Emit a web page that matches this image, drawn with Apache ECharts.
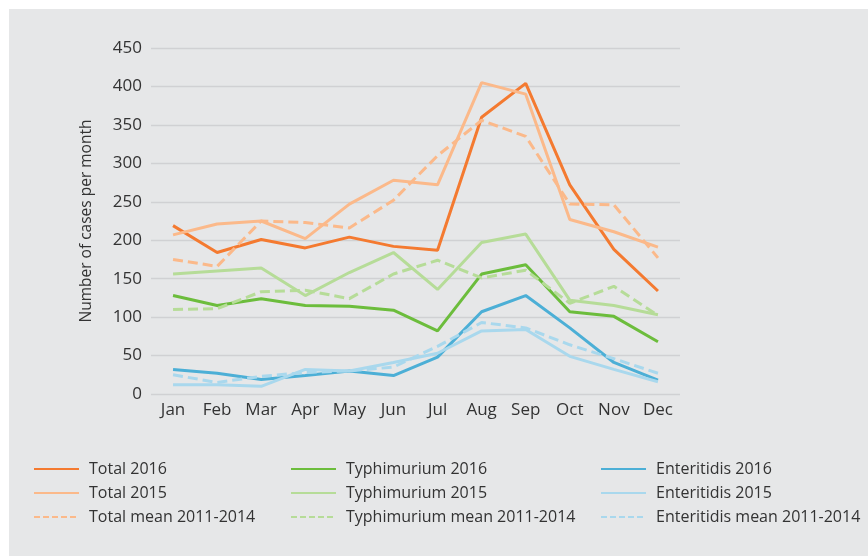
<!DOCTYPE html>
<html>
<head>
<meta charset="utf-8">
<script src="https://cdn.jsdelivr.net/npm/echarts@6/dist/echarts.min.js"></script>
<style>
  html, body { margin: 0; padding: 0; background: #fff; }
  #chart { width: 868px; height: 556px; }
</style>
</head>
<body>
<div id="chart"></div>
<script>
// months on the x axis
var months = ['Jan', 'Feb', 'Mar', 'Apr', 'May', 'Jun', 'Jul', 'Aug', 'Sep', 'Oct', 'Nov', 'Dec'];

// Total
var total2016 = [219, 184, 201, 190, 204, 192, 187, 360, 404, 272, 188, 134];
var total2015 = [207, 221, 225, 202, 247, 278, 272, 405, 390, 227, 211, 191];
var totalMean = [175, 166, 225, 223, 216, 252, 310, 356, 335, 247, 246, 177];

// Typhimurium
var typh2016 = [128, 115, 124, 115, 114, 109, 82, 156, 168, 107, 101, 68];
var typh2015 = [156, 160, 164, 128, 158, 184, 136, 197, 208, 122, 115, 103];
var typhMean = [110, 111, 133, 135, 124, 156, 174, 151, 161, 118, 140, 102];

// Enteritidis
var ent2016 = [32, 27, 19, 24, 30, 24, 48, 107, 128, 86, 41, 18];
var ent2015 = [12, 12, 10, 32, 30, 41, 53, 82, 84, 49, 32, 16];
var entMean = [25, 15, 23, 28, 30, 35, 62, 93, 86, 64, 46, 27];

var yTicks = { min: 0, max: 450, interval: 50 };

var font = '"Open Sans", sans-serif';

function line(name, data, color, dashed) {
    return {
        name: name,
        type: 'line',
        data: data,
        symbol: 'none',
        lineStyle: {
            color: color,
            width: 3,
            type: dashed ? [10, 5] : 'solid'
        },
        itemStyle: { color: color },
        emphasis: { disabled: true }
    };
}

// legend column: 2016, 2015, mean (the mean icon has shorter dashes)
function legendCol(left, names) {
    return {
        orient: 'vertical',
        left: left,
        top: 456,
        itemWidth: 45,
        itemHeight: 10,
        itemGap: 8,
        data: [
            names[0],
            names[1],
            { name: names[2], lineStyle: { type: [6, 3] } }
        ],
        itemStyle: { opacity: 0 },
        textStyle: { fontFamily: font, fontSize: 16, color: '#333', padding: [0, 0, 0, 5] }
    };
}

var chart = echarts.init(document.getElementById('chart'));

var option = {
    backgroundColor: '#fff',
    animation: false,
    graphic: [{
        type: 'rect',
        left: 9, top: 9,
        shape: { width: 859, height: 547 },
        style: { fill: '#e6e7e8' },
        z: -10
    }],
    grid: {
        left: 151,
        right: 188,
        top: 48,
        bottom: 162
    },
    legend: [
        legendCol(28, ['Total 2016', 'Total 2015', 'Total mean 2011-2014']),
        legendCol(285, ['Typhimurium 2016', 'Typhimurium 2015', 'Typhimurium mean 2011-2014']),
        legendCol(595, ['Enteritidis 2016', 'Enteritidis 2015', 'Enteritidis mean 2011-2014'])
    ],
    xAxis: {
        type: 'category',
        data: months,
        boundaryGap: true,
        axisLine: { show: false },
        axisTick: { show: false },
        axisLabel: { fontFamily: font, fontSize: 17, color: '#333', margin: 8 }
    },
    yAxis: {
        type: 'value',
        min: yTicks.min,
        max: yTicks.max,
        interval: yTicks.interval,
        name: 'Number of cases per month',
        nameLocation: 'middle',
        nameGap: 56,
        nameTextStyle: { fontFamily: font, fontSize: 15.5, color: '#333' },
        axisLine: { show: false },
        axisTick: { show: false },
        axisLabel: { fontFamily: font, fontSize: 17, color: '#333', margin: 9 },
        splitLine: { lineStyle: { color: '#d0d1d3', width: 1.3 } }
    },
    series: [
        line('Total 2016', total2016, '#f47a30', false),
        line('Total 2015', total2015, '#fbb98a', false),
        line('Total mean 2011-2014', totalMean, '#fbb98a', true),
        line('Typhimurium 2016', typh2016, '#6cbd3c', false),
        line('Typhimurium 2015', typh2015, '#b6dc98', false),
        line('Typhimurium mean 2011-2014', typhMean, '#b6dc98', true),
        line('Enteritidis 2016', ent2016, '#4cafd6', false),
        line('Enteritidis 2015', ent2015, '#a9d8ed', false),
        line('Enteritidis mean 2011-2014', entMean, '#a9d8ed', true)
    ]
};

chart.setOption(option);
</script>
</body>
</html>
